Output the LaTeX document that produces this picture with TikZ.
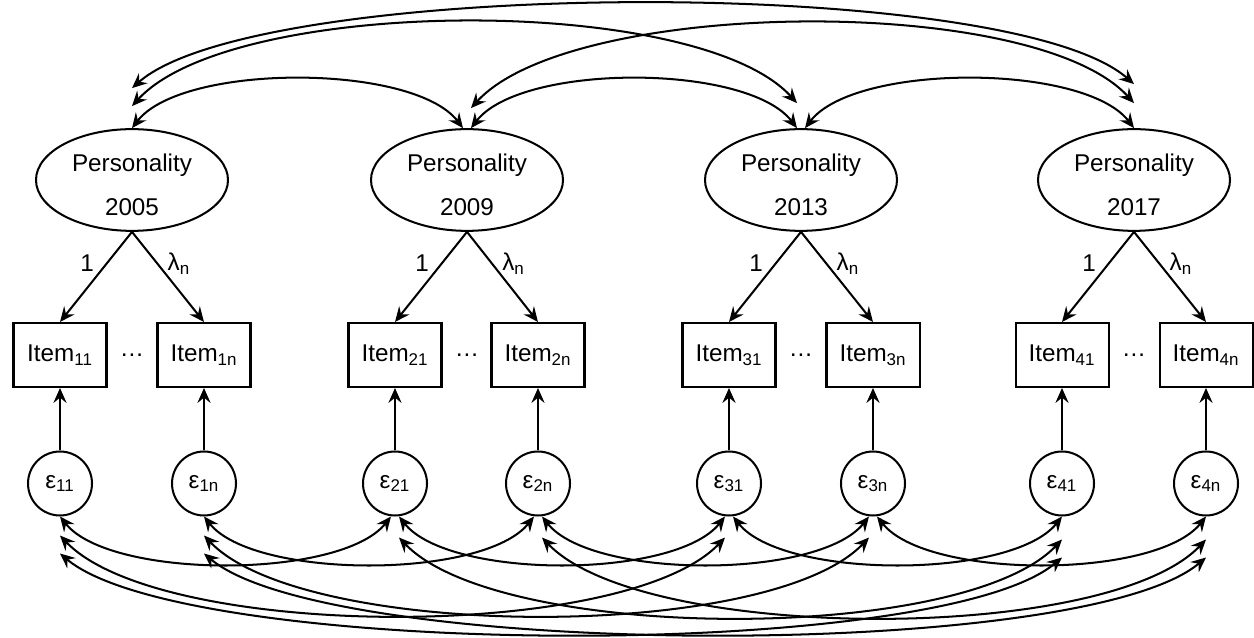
\documentclass[tikz,border=0pt]{standalone}
\usepackage{fontspec}
\setmainfont{Liberation Sans}
\usetikzlibrary{arrows.meta,shapes.geometric}
\begin{document}
\begin{tikzpicture}[line width=1.15pt, >={Stealth[length=8.5pt,width=7.5pt,inset=3pt]},
        font=\fontsize{13.8}{16.6}\selectfont,
        latent/.style={draw, ellipse, minimum width=3.84cm, minimum height=1.92cm, inner sep=0pt, align=center},
        item/.style={draw, rectangle, minimum width=1.86cm, minimum height=1.28cm, inner sep=0pt},
        err/.style={draw, circle, minimum size=1.28cm, inner sep=0pt},
        load/.style={inner sep=0pt, pos=0.35}]
        \useasboundingbox (0, 0) rectangle (25.08, 12.76);
        \node[latent] (P1) at (2.64, 9.16) {\rule{0pt}{15.4pt}Personality\\[8.8pt]2005};
        \node[latent] (P2) at (9.34, 9.16) {\rule{0pt}{15.4pt}Personality\\[8.8pt]2009};
        \node[latent] (P3) at (16.02, 9.16) {\rule{0pt}{15.4pt}Personality\\[8.8pt]2013};
        \node[latent] (P4) at (22.68, 9.16) {\rule{0pt}{15.4pt}Personality\\[8.8pt]2017};
        \node[item] (I11) at (1.20, 5.66) {Item\textsubscript{11}};
        \node[item] (I1n) at (4.08, 5.66) {Item\textsubscript{1n}};
        \node[item] (I21) at (7.90, 5.66) {Item\textsubscript{21}};
        \node[item] (I2n) at (10.76, 5.66) {Item\textsubscript{2n}};
        \node[item] (I31) at (14.58, 5.66) {Item\textsubscript{31}};
        \node[item] (I3n) at (17.46, 5.66) {Item\textsubscript{3n}};
        \node[item] (I41) at (21.24, 5.66) {Item\textsubscript{41}};
        \node[item] (I4n) at (24.12, 5.66) {Item\textsubscript{4n}};
        \node (D1) at (2.64, 5.66) {…};
        \node (D2) at (9.34, 5.66) {…};
        \node (D3) at (16.02, 5.66) {…};
        \node (D4) at (22.68, 5.66) {…};
        \node[err] (E11) at (1.20, 3.09) {ε\textsubscript{11}};
        \node[err] (E1n) at (4.08, 3.09) {ε\textsubscript{1n}};
        \node[err] (E21) at (7.90, 3.09) {ε\textsubscript{21}};
        \node[err] (E2n) at (10.76, 3.09) {ε\textsubscript{2n}};
        \node[err] (E31) at (14.58, 3.09) {ε\textsubscript{31}};
        \node[err] (E3n) at (17.46, 3.09) {ε\textsubscript{3n}};
        \node[err] (E41) at (21.24, 3.09) {ε\textsubscript{41}};
        \node[err] (E4n) at (24.12, 3.09) {ε\textsubscript{4n}};
        \draw[->] (P1.south) -- (I11.north) node[load, left=0.24cm] (L11) {1};
        \draw[->] (P1.south) -- (I1n.north) node[load, right=0.19cm] (L1n) {λ\textsubscript{n}};
        \draw[->] (P2.south) -- (I21.north) node[load, left=0.24cm] (L21) {1};
        \draw[->] (P2.south) -- (I2n.north) node[load, right=0.19cm] (L2n) {λ\textsubscript{n}};
        \draw[->] (P3.south) -- (I31.north) node[load, left=0.24cm] (L31) {1};
        \draw[->] (P3.south) -- (I3n.north) node[load, right=0.19cm] (L3n) {λ\textsubscript{n}};
        \draw[->] (P4.south) -- (I41.north) node[load, left=0.24cm] (L41) {1};
        \draw[->] (P4.south) -- (I4n.north) node[load, right=0.19cm] (L4n) {λ\textsubscript{n}};
        \draw[->] (E11) -- (I11);
        \draw[->] (E1n) -- (I1n);
        \draw[->] (E21) -- (I21);
        \draw[->] (E2n) -- (I2n);
        \draw[->] (E31) -- (I31);
        \draw[->] (E3n) -- (I3n);
        \draw[->] (E41) -- (I41);
        \draw[->] (E4n) -- (I4n);
        \draw[<->] (P1.north) .. controls +(1, 1.3) and +(-1, 1.3) .. ([xshift=-0.08cm]P2.north);
        \draw[<->] ([xshift=0.08cm]P2.north) .. controls +(1, 1.3) and +(-1, 1.3) .. ([xshift=-0.08cm]P3.north);
        \draw[<->] ([xshift=0.08cm]P3.north) .. controls +(1, 1.3) and +(-1, 1.3) .. (P4.north);
        \draw[<->] ([yshift=0.44cm]P1.north) .. controls +(2, 2.2) and +(-2, 2.2) .. ([xshift=-0.08cm, yshift=0.5cm]P3.north);
        \draw[<->] ([xshift=0.08cm, yshift=0.4cm]P2.north) .. controls +(2, 2.2) and +(-2, 2.2) .. ([yshift=0.5cm]P4.north);
        \draw[<->] ([yshift=0.8cm]P1.north) .. controls +(2.5, 2.2) and +(-2.5, 2.2) .. ([yshift=0.88cm]P4.north);
        \draw[<->] (E11.south) .. controls +(1, -1.26) and +(-1, -1.26) .. ([xshift=-0.08cm]E21.south);
        \draw[<->] (E1n.south) .. controls +(1, -1.26) and +(-1, -1.26) .. ([xshift=-0.08cm]E2n.south);
        \draw[<->] ([xshift=0.08cm]E21.south) .. controls +(1, -1.26) and +(-1, -1.26) .. ([xshift=-0.08cm]E31.south);
        \draw[<->] ([xshift=0.08cm]E2n.south) .. controls +(1, -1.26) and +(-1, -1.26) .. ([xshift=-0.08cm]E3n.south);
        \draw[<->] ([xshift=0.08cm]E31.south) .. controls +(1, -1.26) and +(-1, -1.26) .. (E41.south);
        \draw[<->] ([xshift=0.08cm]E3n.south) .. controls +(1, -1.26) and +(-1, -1.26) .. (E4n.south);
        \draw[<->] ([yshift=-0.38cm]E11.south) .. controls +(2, -2.1) and +(-2, -2.1) .. ([xshift=-0.08cm, yshift=-0.42cm]E31.south);
        \draw[<->] ([yshift=-0.38cm]E1n.south) .. controls +(2, -2.1) and +(-2, -2.1) .. ([xshift=-0.08cm, yshift=-0.42cm]E3n.south);
        \draw[<->] ([xshift=0.08cm, yshift=-0.42cm]E21.south) .. controls +(2, -2.1) and +(-2, -2.1) .. ([yshift=-0.46cm]E41.south);
        \draw[<->] ([xshift=0.08cm, yshift=-0.42cm]E2n.south) .. controls +(2, -2.1) and +(-2, -2.1) .. ([yshift=-0.46cm]E4n.south);
        \draw[<->] ([yshift=-0.74cm]E11.south) .. controls +(2.5, -2.1) and +(-2.5, -2.1) .. ([yshift=-0.82cm]E41.south);
        \draw[<->] ([yshift=-0.74cm]E1n.south) .. controls +(2.5, -2.1) and +(-2.5, -2.1) .. ([yshift=-0.82cm]E4n.south);
    \end{tikzpicture}
\end{document}
